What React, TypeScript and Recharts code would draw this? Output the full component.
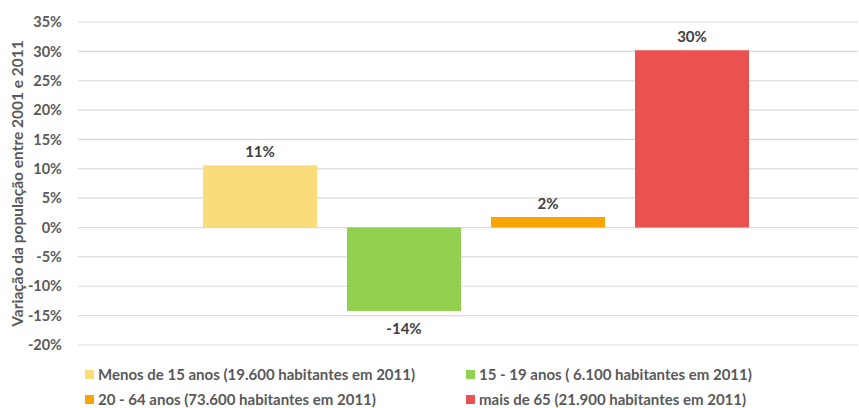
import React from "react";
import { BarChart, Bar, XAxis, YAxis, CartesianGrid, Legend, LabelList } from "recharts";

const seriesNames = [
  "Menos de 15 anos (19.600 habitantes em 2011)",
  "15 - 19 anos ( 6.100 habitantes em 2011)",
  "20 - 64 anos (73.600 habitantes em 2011)",
  "mais de 65 (21.900 habitantes em 2011)",
];
const seriesValues = [10.6, -14.2, 1.8, 30.2];
const seriesColors = ["#FADC78", "#92D050", "#F8A500", "#EA5151"];
const yTicks = [-20, -15, -10, -5, 0, 5, 10, 15, 20, 25, 30, 35];
const yAxisTitle = "Variação da população entre 2001 e 2011";

const keys = ["s0", "s1", "s2", "s3"];
const data = [
  keys.reduce((o: any, k, i) => {
    o[k] = seriesValues[i];
    return o;
  }, { name: "2001-2011" } as any),
];

const FONT = "Lato, 'Open Sans', sans-serif";

const BarLabel = (props: any) => {
  const { x, y, width, height, value } = props;
  const top = Math.min(y, y + height);
  const bottom = Math.max(y, y + height);
  const cx = x + width / 2;
  const pos = value >= 0;
  return (
    <text
      x={cx}
      y={pos ? top - 14 : bottom + 17}
      textAnchor="middle"
      dominantBaseline="central"
      fontFamily={FONT}
      fontWeight={700}
      fontSize={15}
      fill="#404040"
    >
      {Math.round(value)}%
    </text>
  );
};

const LegendContent = () => {
  const pos = [
    { left: 85, top: 21 },
    { left: 466, top: 21 },
    { left: 85, top: 46 },
    { left: 466, top: 46 },
  ];
  return (
    <div style={{ position: "relative", height: 50, width: 859 }}>
      {seriesNames.map((n, i) => (
        <div
          key={n}
          style={{
            position: "absolute",
            left: pos[i].left,
            top: pos[i].top,
            height: 16,
            lineHeight: "16px",
            display: "flex",
            alignItems: "center",
            fontFamily: FONT,
            fontWeight: 700,
            fontSize: 15,
            color: "#595959",
            whiteSpace: "nowrap",
          }}
        >
          <span
            style={{
              display: "inline-block",
              width: 9,
              height: 9,
              background: seriesColors[i],
              marginRight: 4,
            }}
          />
          {n}
        </div>
      ))}
    </div>
  );
};

const AxisTitle = (props: any) => {
  const vb = props.viewBox || {};
  const cy = vb.y + vb.height / 2;
  return (
    <text
      x={17}
      y={cy}
      transform={`rotate(-90, 17, ${cy})`}
      textAnchor="middle"
      dominantBaseline="central"
      fontFamily={FONT}
      fontWeight={700}
      fontSize={15.5}
      fill="#595959"
    >
      {yAxisTitle}
    </text>
  );
};

export default function App() {
  return (
    <div style={{ position: "absolute", left: 0, top: 0, width: 859, height: 408, background: "#fff" }}>
      <BarChart
        width={859}
        height={408}
        data={data}
        margin={{ top: 22, right: 1, left: 0, bottom: 13 }}
        barSize={114}
        barGap={30}
      >
        <CartesianGrid vertical={false} stroke="#D9D9D9" strokeWidth={1.2} />
        <XAxis dataKey="name" hide padding={{ left: 16, right: 0 }} />
        <YAxis
          width={78}
          domain={[-20, 35]}
          ticks={yTicks}
          interval={0}
          axisLine={false}
          tickLine={false}
          tickMargin={10}
          tickFormatter={(v: number) => `${v}%`}
          tick={{ fontFamily: FONT, fontWeight: 700, fontSize: 14.5, fill: "#595959" }}
          label={<AxisTitle />}
        />
        <Legend
          verticalAlign="bottom"
          height={50}
          content={<LegendContent />}
          wrapperStyle={{ left: 0, width: 859 }}
        />
        {keys.map((k, i) => (
          <Bar key={k} dataKey={k} name={seriesNames[i]} fill={seriesColors[i]} isAnimationActive={false}>
            <LabelList dataKey={k} content={<BarLabel />} />
          </Bar>
        ))}
      </BarChart>
    </div>
  );
}
